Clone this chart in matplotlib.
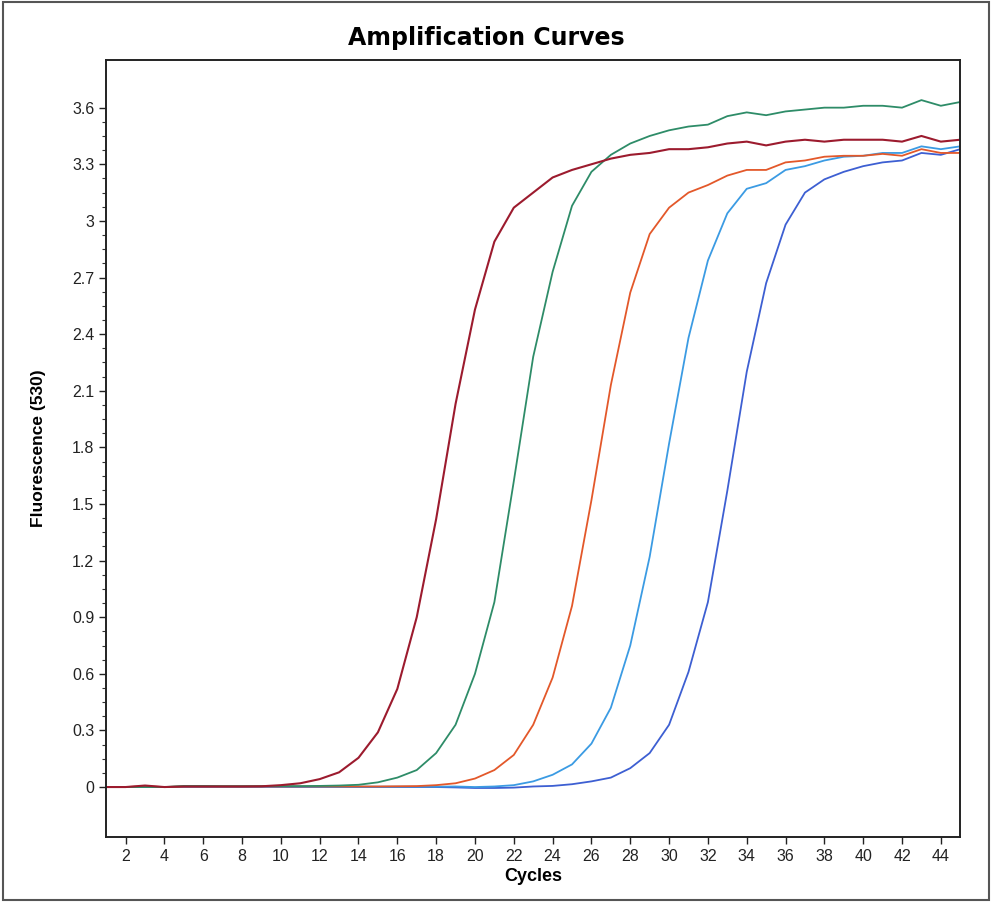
import matplotlib
matplotlib.use("Agg")
import matplotlib.pyplot as plt
from matplotlib.ticker import FixedLocator, FuncFormatter
from matplotlib.patches import Rectangle
import numpy as np

plt.rcParams['font.family'] = ['Liberation Sans', 'DejaVu Sans']

cycles = np.arange(1, 46)

# fluorescence values, cycles 1..45
red = [0, 0, 0.008, 0, 0.003, 0.003, 0.003, 0.003, 0.004, 0.01,
       0.02, 0.042, 0.078, 0.155, 0.29, 0.52, 0.9, 1.42, 2.03, 2.53,
       2.89, 3.07, 3.15, 3.23, 3.27, 3.3, 3.33, 3.35, 3.36, 3.38,
       3.38, 3.39, 3.41, 3.42, 3.4, 3.42, 3.43, 3.42, 3.43, 3.43,
       3.43, 3.42, 3.45, 3.42, 3.43]
green = [0, 0, 0, 0, 0.006, 0.006, 0.005, 0.005, 0.005, 0.005,
         0.005, 0.006, 0.008, 0.012, 0.025, 0.05, 0.09, 0.18, 0.33, 0.6,
         0.98, 1.62, 2.28, 2.73, 3.08, 3.26, 3.35, 3.41, 3.45, 3.48,
         3.5, 3.51, 3.555, 3.575, 3.56, 3.58, 3.59, 3.6, 3.6, 3.61,
         3.61, 3.6, 3.64, 3.61, 3.63]
orange = [0, 0, 0.004, 0, 0.003, 0.003, 0.003, 0.003, 0.003, 0.003,
          0.003, 0.003, 0.003, 0.003, 0.003, 0.004, 0.005, 0.01, 0.02, 0.045,
          0.09, 0.17, 0.33, 0.58, 0.96, 1.52, 2.13, 2.62, 2.93, 3.07,
          3.15, 3.19, 3.24, 3.27, 3.27, 3.31, 3.32, 3.34, 3.345, 3.345,
          3.355, 3.345, 3.38, 3.36, 3.36]
lightblue = [0, 0, 0, 0, 0.002, 0.002, 0.002, 0.002, 0.002, 0.002,
             0.002, 0.002, 0.002, 0.002, 0.002, 0.002, 0.002, 0.002, 0.003, 0.0,
             0.003, 0.01, 0.03, 0.065, 0.12, 0.23, 0.42, 0.75, 1.22, 1.82,
             2.38, 2.79, 3.04, 3.17, 3.2, 3.27, 3.29, 3.32, 3.34, 3.345,
             3.36, 3.36, 3.395, 3.38, 3.395]
blue = [0, 0, 0, 0, 0, 0, 0, 0, 0, 0,
        0, 0, 0, 0, 0, 0, 0, 0, -0.002, -0.005,
        -0.005, -0.003, 0.003, 0.006, 0.015, 0.03, 0.05, 0.1, 0.18, 0.33,
        0.61, 0.98, 1.57, 2.2, 2.67, 2.98, 3.15, 3.22, 3.26, 3.29,
        3.31, 3.32, 3.36, 3.35, 3.38]

fig = plt.figure(figsize=(9.92, 9.02), dpi=100)
ax = fig.add_axes([0.107, 0.072, 0.861, 0.862])

ax.plot(cycles, blue, color='#3d5fd2', lw=1.3)
ax.plot(cycles, lightblue, color='#3b9be3', lw=1.3)
ax.plot(cycles, orange, color='#e3582a', lw=1.3)
ax.plot(cycles, green, color='#2e8c68', lw=1.3)
ax.plot(cycles, red, color='#9c1b2e', lw=1.5)

ax.set_xlim(1, 45)
ax.set_ylim(-0.265, 3.855)
ax.set_xticks(np.arange(2, 45, 2))
yt = np.arange(0, 3.61, 0.3)
ax.set_yticks(yt)
minors = [v for v in np.arange(0, 3.6, 0.075) if abs(v / 0.3 - round(v / 0.3)) > 0.01]
ax.yaxis.set_minor_locator(FixedLocator(minors))
ax.yaxis.set_major_formatter(FuncFormatter(lambda v, p: '%g' % round(v, 2)))

ax.tick_params(axis='both', which='major', direction='out', length=5,
               width=1, labelsize=11.5, colors='#222222')
ax.tick_params(axis='y', which='minor', direction='out', length=3, width=0.8,
               color='#333333')
for s in ax.spines.values():
    s.set_linewidth(1.4)
    s.set_color('#222222')

ax.set_xlabel('Cycles', fontsize=13, fontweight='bold', labelpad=3)
ax.set_ylabel('Fluorescence (530)', fontsize=12.5, fontweight='bold', labelpad=19)
fig.text(0.49, 0.958, 'Amplification Curves', ha='center', va='center',
         fontsize=17, fontweight='bold', family='DejaVu Sans')

fig.patches.append(Rectangle((0.003, 0.002), 0.994, 0.996, transform=fig.transFigure,
                             fill=False, edgecolor='#555555', lw=1.5))

fig.savefig('out.png', dpi=100)
